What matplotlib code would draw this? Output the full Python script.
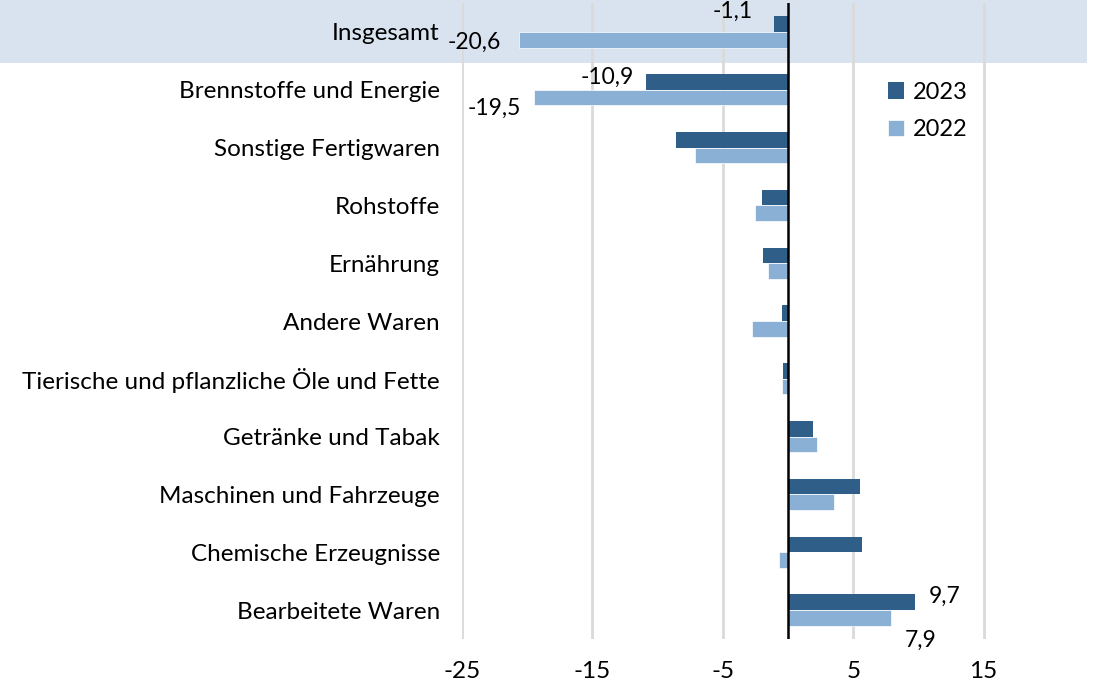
import numpy as np
import matplotlib
matplotlib.use("Agg")
import matplotlib.pyplot as plt
from matplotlib.patches import Rectangle

plt.rcParams['font.family'] = ['Lato', 'DejaVu Sans']

categories = ['Insgesamt', 'Brennstoffe und Energie', 'Sonstige Fertigwaren',
              'Rohstoffe', 'Ernährung', 'Andere Waren',
              'Tierische und pflanzliche Öle und Fette', 'Getränke und Tabak',
              'Maschinen und Fahrzeuge', 'Chemische Erzeugnisse', 'Bearbeitete Waren']
v2023 = [-1.1, -10.9, -8.6, -2.0, -1.9, -0.5, -0.4, 1.9, 5.5, 5.7, 9.7]
v2022 = [-20.6, -19.5, -7.1, -2.5, -1.5, -2.8, -0.5, 2.2, 3.5, -0.7, 7.9]
ticks = [-25, -15, -5, 5, 15]

dark = '#2f5e89'
light = '#8bb0d6'

fig = plt.figure(figsize=(10.97, 6.85), dpi=100)
ax = fig.add_axes([462/1097, 1 - 639/685, 626/1097, 636/685])
ax.patch.set_visible(False)

# highlighted row behind "Insgesamt"
ax.add_patch(Rectangle((0, 1 - 63/685), 1087/1097, 63/685, transform=fig.transFigure,
                       facecolor='#d9e3ef', edgecolor='none', zorder=0, clip_on=False))

y = np.arange(len(categories))
h = 0.27
ax.barh(y - h/2, v2023, height=h, color=dark, label='2023', zorder=3)
ax.barh(y + h/2, v2022, height=h, color=light, edgecolor='white', linewidth=0.5,
        label='2022', zorder=3)

ax.set_xlim(-25, 23)
ax.set_ylim(len(categories) - 0.5, -0.5)
ax.set_xticks(ticks)
ax.set_xticklabels([str(t) for t in ticks])
ax.set_yticks(y)
ax.set_yticklabels(categories)
ax.tick_params(axis='both', length=0, labelsize=17.5, colors='black')
ax.tick_params(axis='y', pad=16)
ax.tick_params(axis='x', pad=15.5)
ax.grid(axis='x', color='#dadada', linewidth=2, zorder=1)
for s in ax.spines.values():
    s.set_visible(False)
ax.axvline(0, color='black', linewidth=1.8, zorder=4)

def fmt(v):
    return ('%.1f' % v).replace('.', ',')

# data labels (only a few are labelled)
lab = dict(fontsize=16.5, textcoords='offset points')
ax.annotate(fmt(v2023[0]), (v2023[0], y[0] - h/2), xytext=(-15, 9), ha='right', va='center', **lab)
ax.annotate(fmt(v2022[0]), (v2022[0], y[0] + h/2), xytext=(-13, -2), ha='right', va='center', **lab)
ax.annotate(fmt(v2023[1]), (v2023[1], y[1] - h/2), xytext=(-9, 3), ha='right', va='center', **lab)
ax.annotate(fmt(v2022[1]), (v2022[1], y[1] + h/2), xytext=(-9, -8), ha='right', va='center', **lab)
ax.annotate(fmt(v2023[10]), (v2023[10], y[10] - h/2), xytext=(10, 4), ha='left', va='center', **lab)
ax.annotate(fmt(v2022[10]), (v2022[10], y[10] + h/2), xytext=(10, -16), ha='left', va='center', **lab)

fig.legend(loc='upper left', bbox_to_anchor=(876/1097, 1 - 70/685), frameon=False,
           fontsize=17, handlelength=0.7, handleheight=0.7, handletextpad=0.35,
           labelspacing=0.7, borderpad=0)

fig.savefig('out.png', dpi=100)
